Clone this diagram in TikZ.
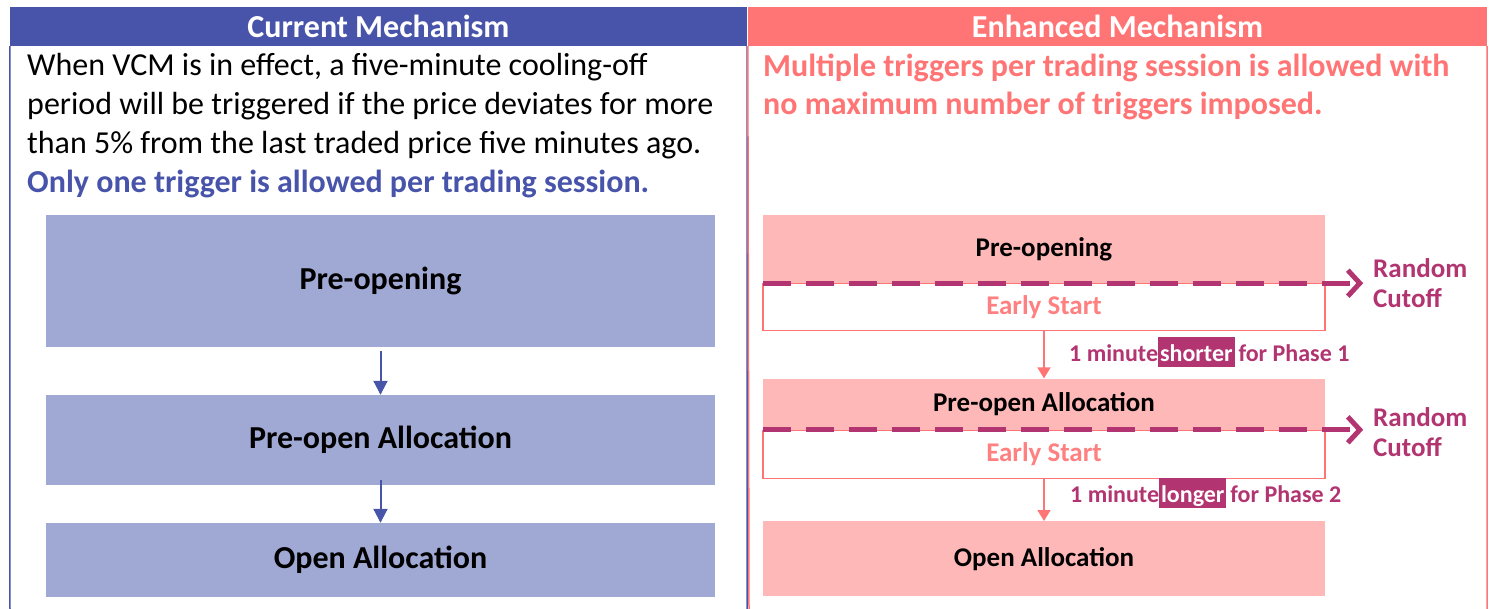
\documentclass[tikz,border=0pt]{standalone}
\usepackage{fontspec}
\setmainfont{Carlito}
\usetikzlibrary{arrows.meta}
\usetikzlibrary{positioning}
\definecolor{curblue}{RGB}{72,84,170}
\definecolor{curfill}{RGB}{160,168,212}
\definecolor{enhred}{RGB}{255,117,117}
\definecolor{enhfill}{RGB}{255,184,184}
\definecolor{cutmag}{RGB}{178,52,112}
\definecolor{earlypink}{RGB}{255,128,128}
\newcommand{\hlword}[1]{{\fboxsep=0pt\colorbox{cutmag}{\kern2pt\rule[-5pt]{0pt}{30pt}\textcolor{white}{#1}\kern2pt}}}

\begin{document}
\begin{tikzpicture}[x=1pt,y=-1pt,>={Triangle[length=14pt,width=14pt]},auto]
      \tikzstyle{head} = [text=white, minimum height=39pt, inner sep=0pt, font=\fontsize{32}{36}\selectfont\bfseries]
      \tikzstyle{cur box} = [fill=curfill, minimum width=669pt, inner sep=0pt, font=\fontsize{32}{36}\selectfont\bfseries]
      \tikzstyle{enh box} = [fill=enhfill, minimum width=562pt, inner sep=0pt, font=\fontsize{27}{30}\selectfont\bfseries]
      \tikzstyle{early box} = [draw=enhred, fill=white, line width=1.2pt, minimum width=562pt, inner sep=0pt,
         text=earlypink, font=\fontsize{27}{30}\selectfont\bfseries]
      \tikzstyle{cur arrow} = [->, draw=curblue, line width=2pt]
      \tikzstyle{enh arrow} = [-{Triangle[length=11pt,width=13pt]}, draw=enhred, line width=1.6pt]
      \tikzstyle{cut line} = [draw=cutmag, line width=5pt, dash pattern=on 28pt off 15pt,
         -{Straight Barb[length=12pt,width=26pt]}]
      \tikzstyle{cutoff} = [text=cutmag, anchor=west, align=left, inner sep=0pt, font=\fontsize{27}{30}\selectfont\bfseries]
      \tikzstyle{phase label} = [text=cutmag, anchor=base west, inner sep=0pt, font=\fontsize{24}{28}\selectfont\bfseries]
      \useasboundingbox (0,0) rectangle (1492,609);

      %panels
      \node[head, fill=curblue, minimum width=737pt] (curhead) at (378.5,26.5) {Current Mechanism};
      \node[head, fill=enhred, minimum width=739pt] (enhhead) at (1117.5,26.5) {Enhanced Mechanism};
      \draw[curblue, line width=1.5pt] (curhead.south west) -- (10,609);
      \draw[curblue, line width=1.5pt] (curhead.south east) -- (747,609);
      \draw[enhred, line width=1.5pt] (enhhead.south west) -- (749,609);
      \draw[enhred, line width=1.5pt] (enhhead.south east) -- (1487,609);

      %texts (base = last line)
      \node[anchor=base west, align=left, inner sep=0pt, font=\fontsize{32}{39}\selectfont] (curtext) at (27,193)
         {When VCM is in effect, a five-minute cooling-off\\
          period will be triggered if the price deviates for more\\
          than 5\% from the last traded price five minutes ago.\\
          \textcolor{curblue}{\bfseries Only one trigger is allowed per trading session.}};
      \node[anchor=base west, align=left, inner sep=0pt, text=enhred, font=\fontsize{32}{38}\selectfont\bfseries] (enhtext) at (763,115)
         {Multiple triggers per trading session is allowed with\\
          no maximum number of triggers imposed.};

      %current nodes
      \node[cur box, minimum height=132pt] (curpre)   at (380.5,281) {Pre-opening};
      \node[cur box, minimum height=90pt]  (curalloc) at (380.5,440) {Pre-open Allocation};
      \node[cur box, minimum height=74pt]  (curopen)  at (380.5,560) {Open Allocation};

      %enhanced nodes
      \node[enh box, minimum height=68pt] (enhpre) at (1044,249) {Pre-opening};
      \node[early box, minimum height=47pt, below=0pt of enhpre] (early1) {Early Start};
      \node[enh box, minimum height=51pt, below=47pt of early1] (enhalloc) {Pre-open Allocation};
      \node[early box, minimum height=48pt, below=0pt of enhalloc] (early2) {Early Start};
      \node[enh box, minimum height=75pt, below=42pt of early2] (enhopen) {Open Allocation};
      \node[cutoff] (cut1) at (1373,283) {Random\\Cutoff};
      \node[cutoff] (cut2) at (1373,432) {Random\\Cutoff};

      %lines
      \draw[cur arrow] ([yshift=-4pt]curpre.south) -- (curalloc.north);
      \draw[cur arrow] ([yshift=5pt]curalloc.south) -- (curopen.north);
      \draw[cut line] (enhpre.south west) -- ([xshift=38pt]enhpre.south east);
      \draw[cut line] (enhalloc.south west) -- ([xshift=38pt]enhalloc.south east);
      \draw[enh arrow] (early1.south) -- (enhalloc.north);
      \draw[enh arrow] (early2.south) -- (enhopen.north);
      \node[phase label] (phase1) at (1069,362) {1 minute\hlword{shorter}\,for Phase 1};
      \node[phase label] (phase2) at (1070,503) {1 minute\hlword{longer}\,for Phase 2};
\end{tikzpicture}
\end{document}
